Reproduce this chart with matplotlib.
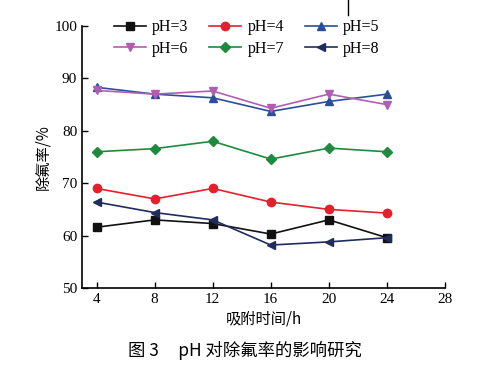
import matplotlib.pyplot as plt
from matplotlib.lines import Line2D

plt.rcParams['font.family'] = ['Liberation Serif', 'Noto Sans CJK SC']
plt.rcParams['mathtext.fontset'] = 'stix'

hours = [4, 8, 12, 16, 20, 24]
ph3 = [61.6, 63.0, 62.3, 60.3, 63.0, 59.6]
ph4 = [69.0, 67.0, 69.0, 66.4, 65.0, 64.3]
ph5 = [88.3, 87.0, 86.3, 83.7, 85.6, 87.0]
ph6 = [87.7, 87.0, 87.6, 84.3, 87.0, 85.0]
ph7 = [76.0, 76.6, 78.0, 74.6, 76.7, 76.0]
ph8 = [66.4, 64.4, 63.0, 58.2, 58.8, 59.6]
labels = ['pH=3', 'pH=4', 'pH=5', 'pH=6', 'pH=7', 'pH=8']

fig = plt.figure(figsize=(4.8, 3.69), dpi=100)
ax = fig.add_axes([0.171, 0.2195, 0.756, 0.71])

series = [ph3, ph4, ph5, ph6, ph7, ph8]
colors = ['#111111', '#e3202b', '#2a4f9a', '#b05fb0', '#1f8a3e', '#1f2d5e']
markers = ['s', 'o', '^', 'v', 'D', '<']
sizes = [5.5, 6, 6, 6, 5, 6]
lines = []
for y, c, m, s, lab in zip(series, colors, markers, sizes, labels):
    ln, = ax.plot(hours, y, color=c, marker=m, markersize=s, linewidth=1.2, label=lab)
    lines.append(ln)

ax.set_xlim(3, 28)
ax.set_ylim(50, 100)
ax.set_xticks([4, 8, 12, 16, 20, 24, 28])
ax.set_yticks([50, 60, 70, 80, 90, 100])
ax.spines['top'].set_visible(False)
ax.spines['right'].set_visible(False)
ax.tick_params(direction='in', labelsize=11, length=4, width=1)
for sp in ['left', 'bottom']:
    ax.spines[sp].set_linewidth(1.2)

cjk = ['Noto Sans CJK SC', 'Liberation Serif']
ax.set_xlabel('吸附时间/h', fontsize=11, family=cjk, labelpad=3)
ax.set_ylabel('除氟率/%', fontsize=11, family=cjk, labelpad=2)

# row-wise order: 3,4,5 on top, 6,7,8 below
order = [0, 3, 1, 4, 2, 5]
ax.legend([lines[i] for i in order], [labels[i] for i in order], ncol=3,
          loc='upper left', bbox_to_anchor=(0.07, 1.05), frameon=False,
          fontsize=11.5, handlelength=2.0, columnspacing=1.3, handletextpad=0.4,
          labelspacing=0.35, borderaxespad=0)

fig.text(0.51, 0.035, '图 3     pH 对除氟率的影响研究', ha='center', fontsize=12.5,
         family=cjk)

fig.add_artist(Line2D([0.725, 0.725], [1.0, 0.96], color='black', linewidth=1,
                      transform=fig.transFigure))

fig.savefig('out.png', dpi=100)
